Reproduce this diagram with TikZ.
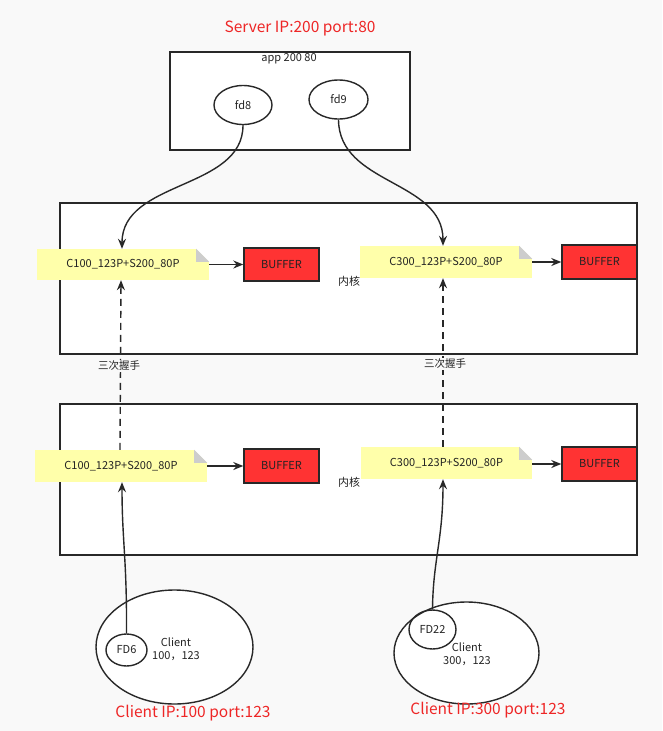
\documentclass[tikz,border=0pt]{standalone}
\usepackage{fontspec}
\setmainfont{Noto Sans CJK SC}
\usetikzlibrary{arrows.meta,shapes.geometric}
\definecolor{bgc}{RGB}{249,249,249}
\definecolor{linec}{RGB}{40,40,40}
\definecolor{txtc}{RGB}{35,35,35}
\definecolor{redt}{RGB}{238,38,38}
\definecolor{notefill}{RGB}{255,255,170}
\definecolor{foldc}{RGB}{205,205,205}
\definecolor{buffc}{RGB}{255,51,51}
\tikzset{
  box/.style={draw=linec, line width=1.6pt, fill=white, inner sep=0pt},
  small/.style={text=txtc, font=\fontsize{11}{13}\selectfont},
  redlabel/.style={text=redt, font=\fontsize{15.5}{18}\selectfont},
  ell/.style={draw=linec, line width=1.4pt, ellipse, fill=white, inner sep=0pt},
  sell/.style={draw=linec, line width=1.4pt, ellipse, inner sep=0pt},
  notebox/.style={fill=notefill, inner sep=0pt, small},
  buffbox/.style={draw=linec, line width=1.4pt, fill=buffc, inner sep=0pt, small, minimum width=75pt},
  arr/.style={draw=linec, line width=1.4pt, -{Stealth[length=10pt,width=8pt]}},
  darr/.style={arr, dash pattern=on 7pt off 5pt},
}
\newcommand{\fold}[1]{%
  \fill[white] ([xshift=-13pt]#1.north east) -- (#1.north east) -- ([yshift=-13pt]#1.north east) -- cycle;
  \fill[foldc] ([xshift=-13pt]#1.north east) -- ([yshift=-13pt]#1.north east) -- ([xshift=-13pt,yshift=-13pt]#1.north east) -- cycle;
}
\begin{document}
\begin{tikzpicture}[x=1pt,y=-1pt]
\useasboundingbox[fill=bgc] (0,0) rectangle (662,731);
% server
\node[redlabel] (srv) at (300,28) {Server IP:200 port:80};
\node[box, minimum width=240pt, minimum height=98pt] (app) at (290,101) {};
\node[small, anchor=north] (appl) at (289,50) {app 200 80};
\node[ell, minimum width=58pt, minimum height=39pt, small] (fd8) at (243,105) {fd8};
\node[ell, minimum width=59pt, minimum height=39pt, small] (fd9) at (338.5,99.5) {fd9};
% kernel boxes
\node[box, minimum width=577pt, minimum height=151pt] (k1) at (348.5,278.5) {};
\node[box, minimum width=577pt, minimum height=151pt] (k2) at (348.5,479.5) {};
\node[small] (k1l) at (349,281) {内核};
\node[small] (k2l) at (349,482) {内核};
% notes
\node[notebox, minimum width=172pt, minimum height=31pt] (n1) at (123,264.5) {C100\_123P+S200\_80P};
\node[notebox, minimum width=172pt, minimum height=32pt] (n2) at (446,262) {C300\_123P+S200\_80P};
\node[notebox, minimum width=172pt, minimum height=32pt] (n3) at (121,466) {C100\_123P+S200\_80P};
\node[notebox, minimum width=171pt, minimum height=32pt] (n4) at (446.5,463) {C300\_123P+S200\_80P};
\fold{n1}\fold{n2}\fold{n3}\fold{n4}
% buffers
\node[buffbox, minimum height=33pt] (b1) at (281.5,264.5) {BUFFER};
\node[buffbox, minimum height=34pt] (b2) at (599.5,262) {BUFFER};
\node[buffbox, minimum height=34pt] (b3) at (281.5,466) {BUFFER};
\node[buffbox, minimum height=34pt] (b4) at (599.5,464) {BUFFER};
\draw[arr] (n1.east) -- (b1.west);
\draw[arr] (n2.east) -- (b2.west);
\draw[arr] (n3.east) -- (b3.west);
\draw[arr] ([yshift=-1pt]n4.east) -- (b4.west);
% fd curves
\draw[arr] (fd8.south) .. controls (243,190) and (122,180) .. ([xshift=-1pt]n1.north);
\draw[arr] (fd9.south) .. controls (339,185) and (443,180) .. ([xshift=-3pt]n2.north);
% handshake
\draw[darr] ([xshift=-1pt]n3.north) -- ([xshift=-2pt]n1.south);
\draw[darr] ([xshift=-3.5pt]n4.north) -- ([xshift=-3pt]n2.south);
\node[small, fill=bgc, inner sep=1pt, font=\fontsize{10.5}{12}\selectfont] (hs1) at (119,366) {三次握手};
\node[small, fill=bgc, inner sep=1pt, font=\fontsize{10.5}{12}\selectfont] (hs2) at (445,364) {三次握手};
% clients
\node[ell, minimum width=157pt, minimum height=114pt] (c1) at (174.5,647) {};
\node[ell, minimum width=145pt, minimum height=102pt] (c2) at (466.5,653) {};
\node[sell, minimum width=41pt, minimum height=32pt, small] (fd6) at (126.5,650) {FD6};
\node[sell, minimum width=47pt, minimum height=39pt, small] (fd22) at (432.5,629.5) {FD22};
\node[small, align=center, inner sep=0pt] (c1l) at (176,649) {Client\\100，123};
\node[small, align=center, inner sep=0pt] (c2l) at (467,654) {Client\\300，123};
\draw[arr] (fd6.north) .. controls (127,560) and (122,540) .. ([xshift=1pt]n3.south);
\draw[arr] (fd22.north) .. controls (433,560) and (443,540) .. ([xshift=-3.5pt]n4.south);
\node[redlabel] (cl1) at (193,713) {Client IP:100 port:123};
\node[redlabel] (cl2) at (488,710) {Client IP:300 port:123};
\end{tikzpicture}
\end{document}
